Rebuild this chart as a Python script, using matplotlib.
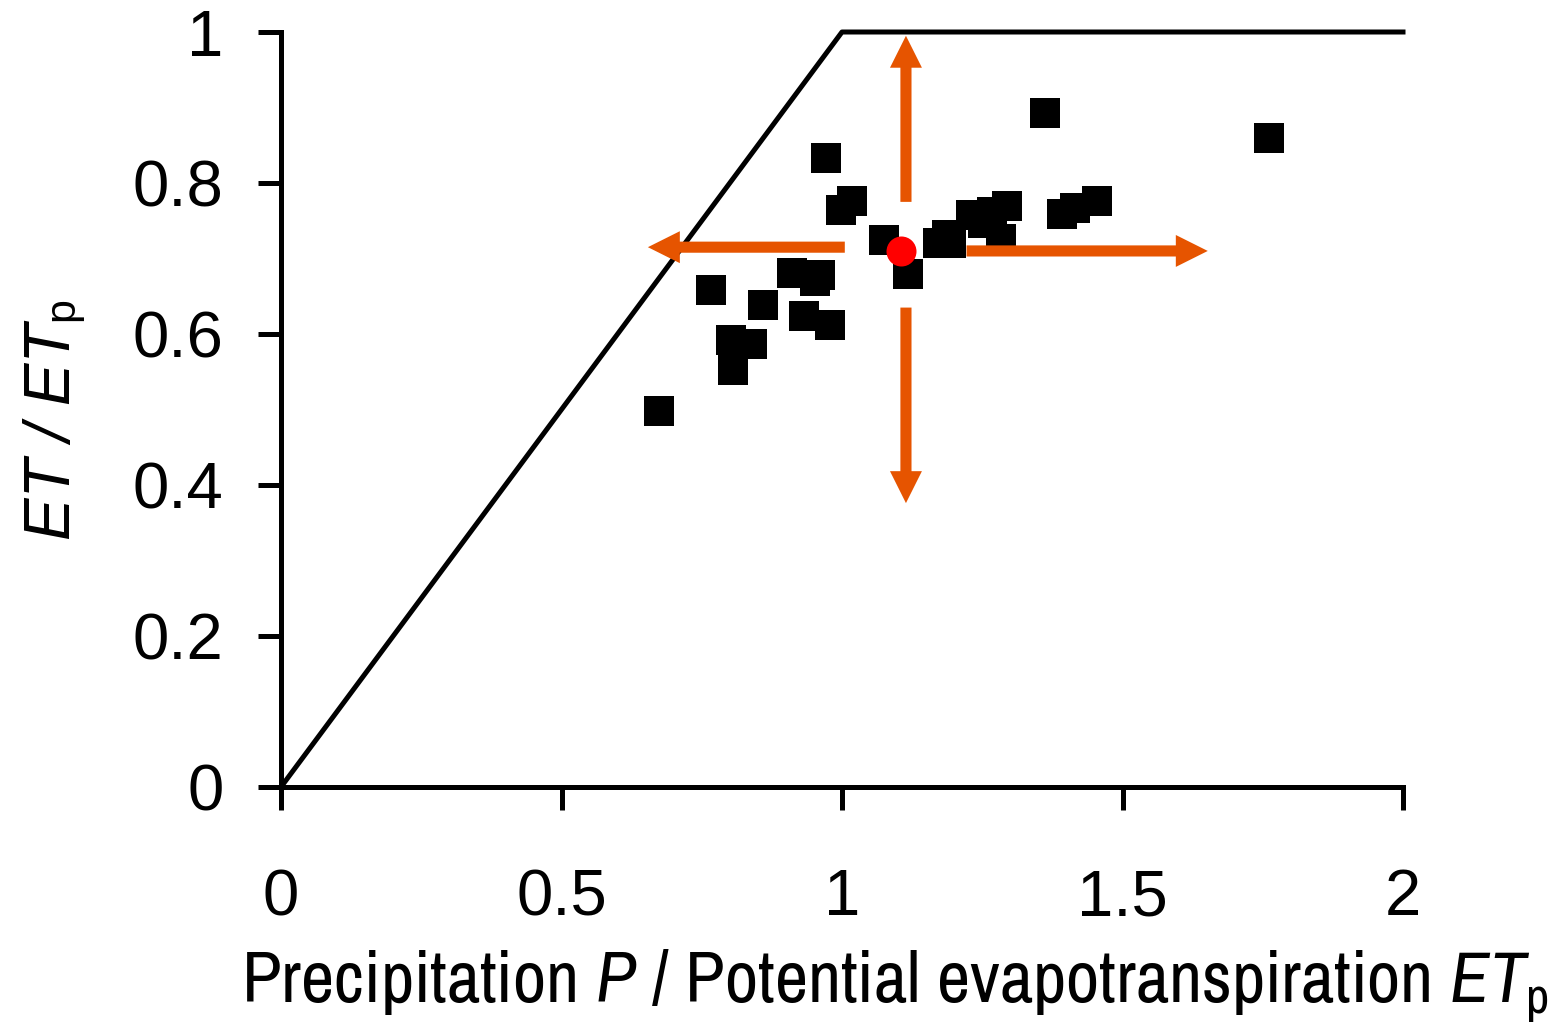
import matplotlib
matplotlib.use("Agg")
import matplotlib.pyplot as plt
from matplotlib.patches import FancyArrowPatch

# Budyko-type limit: energy limit then water limit
limit_x = [0, 1, 2]
limit_y = [0, 1, 1]

# catchments, P/ETp vs ET/ETp
ratio_p = [0.971, 1.017, 0.998, 1.075, 1.118, 1.172, 1.187, 1.195, 1.230, 1.252,
           1.268, 1.295, 1.283, 1.392, 1.415, 1.454, 0.910, 0.961, 0.952, 0.766,
           0.860, 0.933, 0.979, 0.802, 0.840, 0.805, 0.674, 1.361, 1.762]
ratio_et = [0.833, 0.776, 0.764, 0.724, 0.679, 0.721, 0.731, 0.721, 0.758, 0.747,
            0.762, 0.770, 0.726, 0.759, 0.767, 0.776, 0.681, 0.678, 0.670, 0.658,
            0.638, 0.624, 0.612, 0.592, 0.587, 0.552, 0.498, 0.893, 0.859]

# highlighted catchment
mark_p = [1.106]
mark_et = [0.710]

# arrows: (start, tip) in data units
arrow_starts = [(1.005, 0.715), (1.222, 0.710), (1.114, 0.775), (1.114, 0.635)]
arrow_tips = [(0.654, 0.715), (1.652, 0.710), (1.114, 0.995), (1.114, 0.376)]

xticks = [0, 0.5, 1, 1.5, 2]
xticklabels = ["0", "0.5", "1", "1.5", "2"]
yticks = [0, 0.2, 0.4, 0.6, 0.8, 1]
yticklabels = ["0", "0.2", "0.4", "0.6", "0.8", "1"]

narrow = "Archivo Narrow"
plt.rcParams["font.family"] = ["Liberation Sans", "DejaVu Sans"]
plt.rcParams["mathtext.fontset"] = "custom"
plt.rcParams["mathtext.rm"] = narrow
plt.rcParams["mathtext.it"] = narrow + ":italic"

W, H = 1561, 1023
fig = plt.figure(figsize=(W / 100, H / 100), dpi=100)
ax = fig.add_axes([281 / W, 1 - 787 / H, (1403 - 281) / W, (787 - 32) / H])

orange = "#E65400"

ax.plot(limit_x, limit_y, color="black", lw=3.6, clip_on=False, zorder=2)
ax.plot(ratio_p, ratio_et, "s", ms=21.6, color="black", mew=0, zorder=3)

for s, t in zip(arrow_starts, arrow_tips):
    a = FancyArrowPatch(s, t, arrowstyle="simple,head_length=23,head_width=23,tail_width=8",
                        mutation_scale=1, color=orange, lw=0, shrinkA=0, shrinkB=0,
                        zorder=4, clip_on=False)
    ax.add_patch(a)

ax.plot(mark_p, mark_et, "o", ms=21.6, color="#FF0000", mew=0, zorder=5)

ax.set_xlim(0, 2)
ax.set_ylim(0, 1)
ax.set_xticks(xticks)
ax.set_xticklabels(xticklabels)
ax.set_yticks(yticks)
ax.set_yticklabels(yticklabels)
for side in ["top", "right"]:
    ax.spines[side].set_visible(False)
for side in ["left", "bottom"]:
    ax.spines[side].set_linewidth(3.6)
ax.tick_params(axis="both", direction="out", length=16.5, width=3.6, labelsize=47)
ax.tick_params(axis="y", pad=25)
ax.tick_params(axis="x", pad=42)

# y label: italic ET / ET with a subscript p
yl = fig.text(70 / W, 1 - 540 / H, "ET / ET", rotation=90, rotation_mode="anchor",
              ha="left", va="baseline", fontsize=46, style="italic")
ax.annotate("p", xy=(1, 1), xycoords=yl, xytext=(-7, 2), textcoords="offset points",
            rotation=90, rotation_mode="anchor", ha="left", va="baseline", fontsize=31,
            annotation_clip=False)

fig.text(895 / W, 1 - 1003 / H,
         r"Precipitation $P$ / Potential evapotranspiration $ET_\mathrm{p}$",
         ha="center", va="baseline", fontsize=52.3, family=narrow)

fig.savefig("out.png", dpi=100)
